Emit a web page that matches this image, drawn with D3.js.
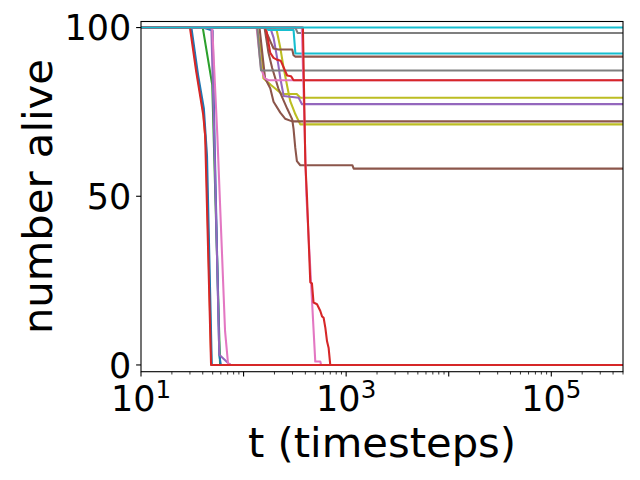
<!DOCTYPE html>
<html>
<head>
<meta charset="utf-8">
<script src="https://cdn.jsdelivr.net/npm/d3@7"></script>
<style>
  html, body { margin: 0; padding: 0; background: #fff; }
  svg text { font-family: "DejaVu Sans", sans-serif; fill: #000; }
</style>
</head>
<body>
<svg id="chart" width="640" height="480"></svg>
<script>
// ---- data: each run is a list of [t (timesteps), number alive] ----
const runGray98   = [[10,100],[320,100],[336,98.4],[5e5,98.4]];
const runOlive79  = [[10,100],[135,100],[150,92],[156,85],[185,83],[236,80.3],[330,80.3],[357,79.2],[5e5,79.2]];
const runOlive71  = [[10,100],[195,100],[205,99.5],[211,99],[228,94],[246,88],[266,82.7],[285,78.2],[320,74.3],[357,71.3],[5e5,71.3]];
const runPurple77 = [[10,100],[182,100],[196,97],[218,89],[228,85],[246,79.7],[344,79.2],[371,77.3],[5e5,77.3]];
const runBrown72  = [[10,100],[143,100],[162,85],[182,82],[196,78],[228,74.8],[254,73],[298,72.2],[5e5,72.2]];
const runBrown58  = [[10,100],[160,100],[175,92.5],[190,88],[218,82],[266,76],[298,72.8],[307,70],[319,64.4],[331,60.4],[357,59.2],[1150,59.2],[1184,58.2],[5e5,58.2]];
const runPink84   = [[10,100],[134,100],[148,88],[160,85],[175,84.4],[5e5,84.4]];
const runGray87   = [[10,100],[136,100],[143,92],[148,87.3],[5e5,87.3]];
const runBrown91  = [[10,100],[160,100],[182,96],[196,93.8],[218,93.5],[298,93.5],[307,91.8],[320,91.4],[5e5,91.4]];
const runRed84    = [[10,100],[165,100],[182,92.5],[196,91],[211,90.5],[230,90.2],[266,85.8],[290,85.6],[307,84.4],[5e5,84.4]];
const runCyan92   = [[10,100],[165,100],[175,99.3],[307,99.3],[320,92.3],[5e5,92.3]];
const runOrange0  = [[10,100],[30.5,100],[35,87],[40.5,75],[43,65],[48.5,0],[5e5,0]];
const runBlue0    = [[10,100],[31,100],[36,86],[41,76],[44,62],[49,0],[5e5,0]];
const runGreen0   = [[10,100],[40,100],[49.5,83],[59,0],[5e5,0]];
const runBlue0b   = [[10,100],[40,100],[48,99.3],[50,99],[52,68],[58,3],[60,0],[5e5,0]];
const runPurple0  = [[10,100],[48.5,100],[51.7,68],[58,3],[71,0.5],[75,0],[5e5,0]];
const runPink0    = [[10,100],[49.5,100],[55.5,68],[66,10],[70.5,0.5],[75,0],[5e5,0]];
const runPinkLate = [[10,100],[370,100],[410,50],[500,1],[560,1],[570,0],[5e5,0]];
const runRedLate  = [[10,100],[379,100],[400,60],[415,50],[447,24.5],[464,24.2],[481,18.5],[520,18],[560,16],[582,14.4],[603,14],[627,11],[651,7],[675,5],[700,0],[5e5,0]];
const runRed0     = [[10,100],[30,100],[34.5,87],[40.5,74],[42.2,68],[48.2,0],[5e5,0]];
const runCyan100  = [[10,100],[5e5,100]];

const runs = [runGray98, runOlive79, runOlive71, runPurple77, runBrown72, runBrown58,
              runPink84, runGray87, runBrown91, runRed84, runCyan92,
              runOrange0, runBlue0, runGreen0, runBlue0b, runPurple0, runPink0,
              runPinkLate, runRedLate, runRed0, runCyan100];
const runNames = ["gray98","olive79","olive71","purple77","brown72","brown58",
                  "pink84","gray87","brown91","red84","cyan92",
                  "orange0","blue0","green0","blue0b","purple0","pink0",
                  "pinkLate","redLate","red0","cyan100"];
// tab10 index of each run
const runColorIndex = [7,8,8,4,5,5,6,7,5,3,9,1,0,2,0,4,6,6,3,3,9];

const xDomain = [10, 5e5];
const yDomain = [-2, 101.8];
const xTickExps = [1, 3, 5];
const yTicks = [0, 50, 100];
const xLabel = "t (timesteps)";
const yLabel = "number alive";

// ---- layout ----
const L = 141, R = 623, T = 21.5, B = 371.7;
const tickFont = 35, labelFont = 41.7;

const svg = d3.select("#chart");
const x = d3.scaleLog().domain(xDomain).range([L, R]);
const y = d3.scaleLinear().domain(yDomain).range([B, T]);
const color = d3.scaleOrdinal().domain(runNames)
  .range(runColorIndex.map(i => d3.schemeCategory10[i]));

svg.append("defs").append("clipPath").attr("id", "clip")
  .append("rect").attr("x", L).attr("y", T).attr("width", R - L).attr("height", B - T);

const line = d3.line().x(d => x(d[0])).y(d => y(d[1]));
svg.append("g").attr("clip-path", "url(#clip)")
  .selectAll("path").data(runs).join("path")
  .attr("d", line)
  .attr("fill", "none")
  .attr("stroke", (d, i) => color(runNames[i]))
  .attr("stroke-width", 2.08)
  .attr("stroke-linejoin", "round")
  .attr("stroke-linecap", "square");

// spines
svg.append("rect").attr("x", L).attr("y", T).attr("width", R - L).attr("height", B - T)
  .attr("fill", "none").attr("stroke", "#000").attr("stroke-width", 1.1);

// x ticks (major + minor)
const gx = svg.append("g");
const minor = [];
for (let e = 1; e <= 5; e++) for (let m = 2; m <= 9; m++) {
  const v = m * Math.pow(10, e);
  if (v <= xDomain[1]) minor.push(v);
}
gx.selectAll("line.minor").data(minor).join("line")
  .attr("x1", d => x(d)).attr("x2", d => x(d))
  .attr("y1", B).attr("y2", B + 2.8)
  .attr("stroke", "#000").attr("stroke-width", 0.8);
const majors = d3.range(1, 6).map(e => Math.pow(10, e));
gx.selectAll("line.major").data(majors).join("line")
  .attr("x1", d => x(d)).attr("x2", d => x(d))
  .attr("y1", B).attr("y2", B + 4.9)
  .attr("stroke", "#000").attr("stroke-width", 1.1);
const xt = gx.selectAll("text").data(xTickExps).join("text")
  .attr("x", d => x(Math.pow(10, d)))
  .attr("y", 411)
  .attr("text-anchor", "middle")
  .attr("font-size", tickFont);
xt.append("tspan").text("10");
xt.append("tspan").attr("font-size", tickFont * 0.7).attr("dy", -13).text(d => d);

// y ticks
const gy = svg.append("g");
gy.selectAll("line").data(yTicks).join("line")
  .attr("x1", L - 4.9).attr("x2", L)
  .attr("y1", d => y(d)).attr("y2", d => y(d))
  .attr("stroke", "#000").attr("stroke-width", 1.1);
gy.selectAll("text").data(yTicks).join("text")
  .attr("x", L - 9.8)
  .attr("y", d => y(d) + 12.7)
  .attr("text-anchor", "end")
  .attr("font-size", tickFont)
  .text(d => d);

// axis labels
svg.append("text")
  .attr("x", (L + R) / 2).attr("y", 457)
  .attr("text-anchor", "middle")
  .attr("font-size", labelFont)
  .text(xLabel);
svg.append("text")
  .attr("transform", `translate(52,${(T + B) / 2}) rotate(-90)`)
  .attr("text-anchor", "middle")
  .attr("font-size", labelFont)
  .text(yLabel);
</script>
</body>
</html>
